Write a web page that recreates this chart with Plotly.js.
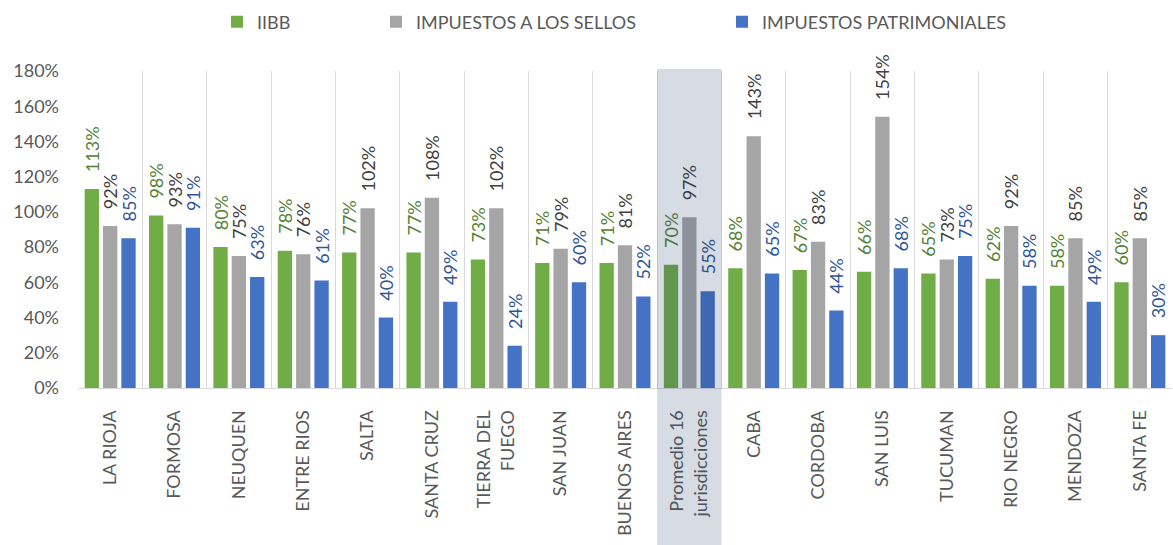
<!DOCTYPE html>
<html>
<head>
<meta charset="utf-8">
<script src="https://cdn.plot.ly/plotly-3.0.1.min.js"></script>
<style>
  html, body { margin: 0; padding: 0; background: #ffffff; }
  #chart { width: 1173px; height: 545px; }
</style>
</head>
<body>
<div id="chart"></div>
<script>
const categories = ['LA RIOJA', 'FORMOSA', 'NEUQUEN', 'ENTRE RIOS', 'SALTA', 'SANTA CRUZ',
  'TIERRA DEL<br>FUEGO', 'SAN JUAN', 'BUENOS AIRES', 'Promedio 16<br>jurisdicciones',
  'CABA', 'CORDOBA', 'SAN LUIS', 'TUCUMAN', 'RIO NEGRO', 'MENDOZA', 'SANTA FE'];
const iibb    = [1.13, 0.98, 0.80, 0.78, 0.77, 0.77, 0.73, 0.71, 0.71, 0.70, 0.68, 0.67, 0.66, 0.65, 0.62, 0.58, 0.60];
const sellos  = [0.92, 0.93, 0.75, 0.76, 1.02, 1.08, 1.02, 0.79, 0.81, 0.97, 1.43, 0.83, 1.54, 0.73, 0.92, 0.85, 0.85];
const patrim  = [0.85, 0.91, 0.63, 0.61, 0.40, 0.49, 0.24, 0.60, 0.52, 0.55, 0.65, 0.44, 0.68, 0.75, 0.58, 0.49, 0.30];
const seriesNames = ['IIBB', 'IMPUESTOS A LOS SELLOS', 'IMPUESTOS PATRIMONIALES'];
const highlighted = 'Promedio 16<br>jurisdicciones';

const FONT = 'Lato, "Open Sans", sans-serif';
const barColors = ['#70ad47', '#a5a5a5', '#4472c4'];
const labelColors = ['#548235', '#404040', '#2f5597'];
const legendIds = ['legend', 'legend2', 'legend3'];
const seriesValues = [iibb, sellos, patrim];

const traces = seriesValues.map((vals, i) => ({
  type: 'bar',
  name: seriesNames[i],
  x: categories,
  y: vals,
  legend: legendIds[i],
  showlegend: true,
  marker: { color: barColors[i], line: { width: 0 } },
  texttemplate: '\u00a0\u00a0\u00a0%{y:.0%}',
  textposition: 'outside',
  textangle: -90,
  constraintext: 'none',
  cliponaxis: false,
  textfont: { family: FONT, size: 18, color: labelColors[i] },
  hoverinfo: 'skip'
}));

const hiIdx = categories.indexOf(highlighted);
const legendBase = { visible: true, orientation: 'h', xref: 'container', yref: 'container', xanchor: 'left', yanchor: 'middle', y: 1 - 22 / 545,
  font: { family: FONT, size: 18, color: '#595959' }, bgcolor: 'rgba(0,0,0,0)' };

const layout = {
  width: 1173, height: 545,
  showlegend: true,
  margin: { l: 78, r: 1, t: 71, b: 157, pad: 0 },
  paper_bgcolor: '#ffffff', plot_bgcolor: '#ffffff',
  font: { family: FONT, size: 18, color: '#595959' },
  barmode: 'group',
  bargap: 0.145,
  bargroupgap: 0.22,
  legend: Object.assign({}, legendBase, { x: 217 / 1173 }),
  legend2: Object.assign({}, legendBase, { x: 376 / 1173 }),
  legend3: Object.assign({}, legendBase, { x: 722 / 1173 }),
  xaxis: {
    type: 'category',
    tickson: 'boundaries',
    showgrid: true, gridcolor: '#d9d9d9', gridwidth: 1,
    showline: true, linecolor: '#d9d9d9', linewidth: 1,
    ticks: '', tickangle: -90,
    ticklabelstandoff: 14,
    tickfont: { family: FONT, size: 18, color: '#595959' },
    fixedrange: true
  },
  yaxis: {
    range: [0, 1.8], dtick: 0.2, tickformat: '.0%',
    showgrid: false, zeroline: false, showline: false, ticks: '',
    ticklabelstandoff: 18,
    tickfont: { family: FONT, size: 18, color: '#595959' },
    fixedrange: true
  },
  shapes: [{
    type: 'rect', layer: 'above',
    xref: 'x', yref: 'paper',
    x0: hiIdx - 0.5, x1: hiIdx + 0.5,
    y0: -0.6, y1: 1.006,
    fillcolor: 'rgba(31,56,100,0.18)',
    line: { width: 0 }
  }]
};

Plotly.newPlot('chart', traces, layout, { displayModeBar: false, staticPlot: true });
</script>
</body>
</html>
